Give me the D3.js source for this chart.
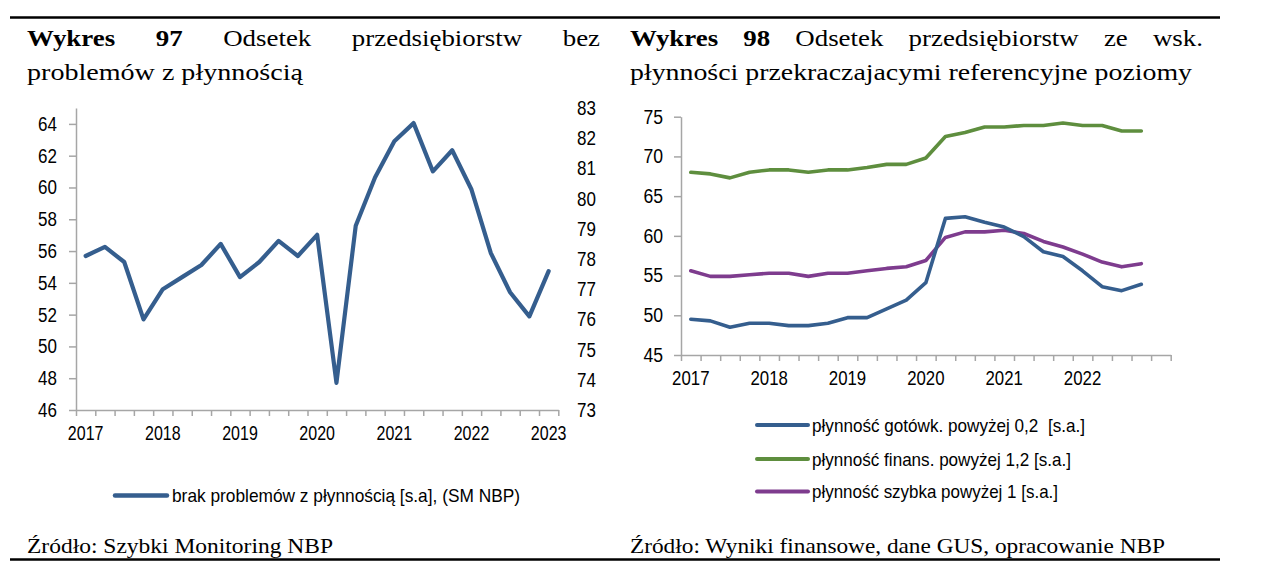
<!DOCTYPE html>
<html><head><meta charset="utf-8">
<script src="https://cdn.jsdelivr.net/npm/d3@7"></script>
<style>
body{margin:0;background:#fff;}
svg{display:block;}
.tick text{font-family:"Liberation Sans",Arial,sans-serif;font-size:20px;fill:#000;}
</style></head><body>
<svg id="c" width="1266" height="580"></svg>
<script>
// ---------- DATA ----------
const quarters = ["2017Q1","2017Q2","2017Q3","2017Q4","2018Q1","2018Q2","2018Q3","2018Q4",
  "2019Q1","2019Q2","2019Q3","2019Q4","2020Q1","2020Q2","2020Q3","2020Q4",
  "2021Q1","2021Q2","2021Q3","2021Q4","2022Q1","2022Q2","2022Q3","2022Q4","2023Q1"];
const leftYearTicks = ["2017Q1","2018Q1","2019Q1","2020Q1","2021Q1","2022Q1","2023Q1"];
const rightYearTicks = ["2017Q1","2018Q1","2019Q1","2020Q1","2021Q1","2022Q1"];
const leftAxisTicks = [46,48,50,52,54,56,58,60,62,64];
const secondaryAxisTicks = [73,74,75,76,77,78,79,80,81,82,83];
const rightAxisTicks = [45,50,55,60,65,70,75];

// Wykres 97: brak problemów z płynnością [s.a], (SM NBP) — read on the right-hand scale
const noLiquidityProblems = [78.1,78.4,77.9,76.0,77.0,77.4,77.8,78.5,77.4,77.9,78.6,78.1,
  78.8,73.9,79.1,80.7,81.9,82.5,80.9,81.6,80.3,78.2,76.9,76.1,77.6];

// Wykres 98 (2017Q1 - 2022Q4)
const cashLiquidity = [49.5,49.3,48.5,49.0,49.0,48.7,48.7,49.0,49.7,49.7,50.8,51.9,
  54.1,62.2,62.4,61.7,61.1,59.9,58.0,57.4,55.6,53.6,53.1,53.9];
const financialLiquidity = [68.0,67.8,67.3,68.0,68.3,68.3,68.0,68.3,68.3,68.6,69.0,69.0,
  69.8,72.5,73.0,73.7,73.7,73.9,73.9,74.2,73.9,73.9,73.2,73.2];
const quickLiquidity = [55.6,54.9,54.9,55.1,55.3,55.3,54.9,55.3,55.3,55.6,55.9,56.1,
  56.9,59.8,60.5,60.5,60.7,60.3,59.3,58.6,57.7,56.7,56.1,56.5];

const seriesNames = ["płynność gotówk. powyżej 0,2  [s.a.]","płynność finans. powyżej 1,2 [s.a.]","płynność szybka powyżej 1 [s.a.]"];
const leftLegendName = "brak problemów z płynnością [s.a], (SM NBP)";

// ---------- STYLE ----------
const BLUE = "#355E8E", GREEN = "#5E8E3E", PURPLE = "#7E3C8E", AXIS = "#A6A6A6";
const svg = d3.select("#c");
const SERIF = "'Liberation Serif','Times New Roman',serif";
const SANS = "'Liberation Sans',Arial,sans-serif";

function condense(sel, f){
  sel.each(function(){ const w = this.getComputedTextLength(); d3.select(this).attr("textLength", w*f).attr("lengthAdjust","spacingAndGlyphs"); });
}
function styleAxis(g){
  g.select(".domain").attr("stroke", AXIS).attr("stroke-width",1.5);
  g.selectAll(".tick line").attr("stroke", AXIS).attr("stroke-width",1.5);
}
function justify(words, x0, x1, y, size){
  const els = words.map(w => svg.append("text").attr("y", y).attr("font-family", SERIF)
    .attr("font-size", size).attr("font-weight", w.b ? "bold" : "normal").attr("fill","#000").text(w.t));
  const widths = els.map(e => e.node().getComputedTextLength() * 1.12);
  els.forEach((e,i) => e.attr("textLength", widths[i]).attr("lengthAdjust","spacingAndGlyphs"));
  const gap = (x1 - x0 - d3.sum(widths)) / (els.length - 1);
  let x = x0;
  els.forEach((e,i) => { e.attr("x", x); x += widths[i] + gap; });
}
function plainLine(t, x0, x1, y, size){
  svg.append("text").attr("x", x0).attr("y", y).attr("font-family", SERIF).attr("font-size", size)
    .attr("fill","#000").attr("textLength", x1-x0).attr("lengthAdjust","spacingAndGlyphs").text(t);
}

// ---------- FRAME ----------
svg.append("line").attr("x1",10).attr("x2",1220).attr("y1",17.5).attr("y2",17.5).attr("stroke","#000").attr("stroke-width",2.5);
svg.append("line").attr("x1",10).attr("x2",1220).attr("y1",559.5).attr("y2",559.5).attr("stroke","#000").attr("stroke-width",2.5);

justify([{t:"Wykres",b:1},{t:"97",b:1},{t:"Odsetek"},{t:"przedsiębiorstw"},{t:"bez"}], 27, 600, 46, 24);
plainLine("problemów z płynnością", 27, 303, 80, 24);
justify([{t:"Wykres",b:1},{t:"98",b:1},{t:"Odsetek"},{t:"przedsiębiorstw"},{t:"ze"},{t:"wsk."}], 630, 1203, 46, 24);
plainLine("płynności przekraczajacymi referencyjne poziomy", 630, 1192, 80, 24);
plainLine("Źródło: Szybki Monitoring NBP", 27, 333, 553, 21);
plainLine("Źródło: Wyniki finansowe, dane GUS, opracowanie NBP", 630, 1165, 553, 21);

// ---------- LEFT CHART ----------
{
  const x0 = 76, x1 = 558.3, yB = 410, yT = 108;
  const x = d3.scaleBand().domain(quarters).range([x0, x1]);
  const xi = d3.scaleLinear().domain([0, quarters.length]).range([x0, x1]);
  const yL = d3.scaleLinear().domain([46,65]).range([yB, yT]);
  const yR = d3.scaleLinear().domain([73,83]).range([yB, yT]);

  const gxT = svg.append("g").attr("transform",`translate(0,${yB})`)
    .call(d3.axisBottom(xi).tickValues(d3.range(quarters.length+1)).tickSize(6).tickFormat("").tickSizeOuter(0));
  styleAxis(gxT);
  const gxL = svg.append("g").attr("transform",`translate(0,${yB})`)
    .call(d3.axisBottom(x).tickValues(leftYearTicks).tickSize(0).tickPadding(16).tickFormat(d => d.slice(0,4)));
  gxL.select(".domain").remove();
  condense(gxL.selectAll("text"), 0.8);

  const gy = svg.append("g").attr("transform",`translate(${x0},0)`)
    .call(d3.axisLeft(yL).tickValues(leftAxisTicks).tickSize(7).tickPadding(12).tickSizeOuter(0));
  styleAxis(gy);
  condense(gy.selectAll("text"), 0.85);

  const gy2 = svg.append("g").attr("transform",`translate(565,0)`)
    .call(d3.axisRight(yR).tickValues(secondaryAxisTicks).tickSize(0).tickPadding(12));
  gy2.select(".domain").remove();
  condense(gy2.selectAll("text"), 0.85);

  const line = d3.line().x((d,i) => x(quarters[i]) + x.bandwidth()/2).y(d => yR(d));
  svg.append("path").datum(noLiquidityProblems).attr("d", line).attr("fill","none")
    .attr("stroke", BLUE).attr("stroke-width", 4.2).attr("stroke-linejoin","round").attr("stroke-linecap","round");

  svg.append("line").attr("x1",115).attr("x2",167).attr("y1",495.5).attr("y2",495.5)
    .attr("stroke",BLUE).attr("stroke-width",4.5).attr("stroke-linecap","round");
  svg.append("text").attr("x",172).attr("y",495.5).attr("dy","0.35em").attr("font-family",SANS)
    .attr("font-size",19).attr("textLength",348).attr("lengthAdjust","spacingAndGlyphs").text(leftLegendName);
}

// ---------- RIGHT CHART ----------
{
  const x0 = 681, x1 = 1170.7, yB = 355, yT = 116.7;
  const x = d3.scaleBand().domain(quarters).range([x0, x1]);
  const xi = d3.scaleLinear().domain([0, quarters.length]).range([x0, x1]);
  const y = d3.scaleLinear().domain([45,75]).range([yB, yT]);

  const gxT = svg.append("g").attr("transform",`translate(0,${yB})`)
    .call(d3.axisBottom(xi).tickValues(d3.range(quarters.length+1)).tickSize(6).tickFormat("").tickSizeOuter(0));
  styleAxis(gxT);
  const gxL = svg.append("g").attr("transform",`translate(0,${yB})`)
    .call(d3.axisBottom(x).tickValues(rightYearTicks).tickSize(0).tickPadding(16).tickFormat(d => d.slice(0,4)));
  gxL.select(".domain").remove();
  condense(gxL.selectAll("text"), 0.84);

  const gy = svg.append("g").attr("transform",`translate(${x0},0)`)
    .call(d3.axisLeft(y).tickValues(rightAxisTicks).tickSize(7).tickPadding(11).tickSizeOuter(0));
  styleAxis(gy);
  condense(gy.selectAll("text"), 0.88);

  const line = d3.line().x((d,i) => x(quarters[i]) + x.bandwidth()/2).y(d => y(d));
  const series = [cashLiquidity, financialLiquidity, quickLiquidity];
  const colors = [BLUE, GREEN, PURPLE];
  [1,2,0].forEach(k => {
    svg.append("path").datum(series[k]).attr("d", line).attr("fill","none")
      .attr("stroke", colors[k]).attr("stroke-width", 3.6).attr("stroke-linejoin","round").attr("stroke-linecap","round");
  });

  const legY = [425, 459, 491.5];
  const legW = [273, 259, 246];
  seriesNames.forEach((n,k) => {
    svg.append("line").attr("x1",757).attr("x2",808).attr("y1",legY[k]).attr("y2",legY[k])
      .attr("stroke",colors[k]).attr("stroke-width",4).attr("stroke-linecap","round");
    svg.append("text").attr("x",812).attr("y",legY[k]).attr("dy","0.35em").attr("font-family",SANS)
      .attr("font-size",19).style("white-space","pre").attr("textLength",legW[k]).attr("lengthAdjust","spacingAndGlyphs").text(n);
  });
}
</script>
</body></html>
